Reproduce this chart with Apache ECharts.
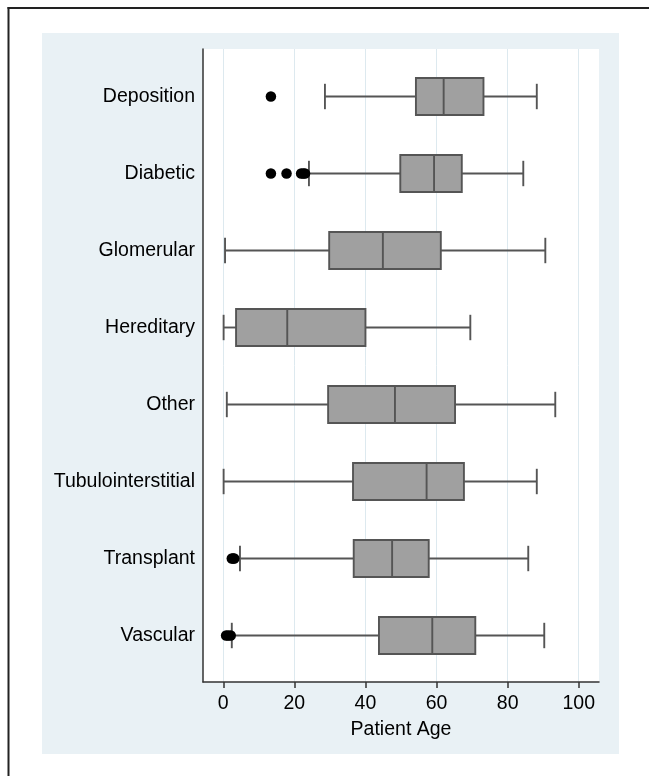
<!DOCTYPE html>
<html>
<head>
<meta charset="utf-8">
<script src="https://cdn.jsdelivr.net/npm/echarts@6/dist/echarts.min.js"></script>
<style>
html,body{margin:0;padding:0;background:#fff;}
#chart{width:649px;height:776px;}
</style>
</head>
<body>
<div id="chart"></div>
<script>
var categories = ['Deposition','Diabetic','Glomerular','Hereditary','Other','Tubulointerstitial','Transplant','Vascular'];
var lowWhisker  = [28.6, 24.1, 0.5, 0.1, 1.0, 0.1, 4.7, 2.4];
var q1          = [54.2, 49.8, 29.8, 3.6, 29.5, 36.5, 36.7, 43.8];
var median      = [62.0, 59.3, 44.9, 18.0, 48.3, 57.2, 47.5, 58.8];
var q3          = [73.2, 67.1, 61.2, 40.0, 65.2, 67.7, 57.8, 70.9];
var highWhisker = [88.2, 84.4, 90.6, 69.5, 93.4, 88.2, 85.8, 90.3];
var outlierCategory = ['Deposition','Diabetic','Diabetic','Diabetic','Diabetic','Diabetic','Transplant','Transplant','Transplant','Vascular','Vascular','Vascular'];
var outlierAge      = [13.4, 13.4, 17.8, 21.9, 22.5, 23.0, 2.4, 2.8, 3.1, 0.8, 1.4, 2.1];
var xTicks = [0, 20, 40, 60, 80, 100];

var FONT = 'Liberation Sans, Arial, Helvetica, sans-serif';
var xMin = -5.7, xMax = 105.7;

var boxData = categories.map(function (c, i) {
  return [i, lowWhisker[i], q1[i], median[i], q3[i], highWhisker[i]];
});
var outlierData = outlierCategory.map(function (c, i) {
  return [outlierAge[i], categories.indexOf(c)];
});

var chart = echarts.init(document.getElementById('chart'), null, {renderer: 'canvas'});
var option = {
  animation: false,
  backgroundColor: '#ffffff',
  graphic: [
    {type: 'rect', z: -10, shape: {x: 42, y: 33, width: 577, height: 721}, style: {fill: '#e9f1f5'}},
    {type: 'line', z: 100, shape: {x1: 8.5, y1: 7, x2: 8.5, y2: 776}, style: {stroke: '#222', lineWidth: 2}},
    {type: 'line', z: 100, shape: {x1: 7.5, y1: 8, x2: 649, y2: 8}, style: {stroke: '#222', lineWidth: 2}}
  ],
  grid: [
    {left: 203, top: 49, width: 396, height: 633, show: true, backgroundColor: '#ffffff', borderWidth: 0},
    {left: 203, top: 58, width: 396, height: 616, show: false}
  ],
  xAxis: [
    {
      gridIndex: 0, type: 'value', min: xMin, max: xMax,
      name: 'Patient Age', nameLocation: 'middle', nameGap: 38,
      nameTextStyle: {fontFamily: FONT, fontSize: 19.5, color: '#000'},
      axisLine: {show: true, onZero: false, lineStyle: {color: '#333', width: 1.5}},
      axisTick: {show: true, length: 6, customValues: xTicks, lineStyle: {color: '#333', width: 1.5}},
      axisLabel: {show: true, margin: 12, customValues: xTicks, fontFamily: FONT, fontSize: 19.5, color: '#000'},
      splitLine: {show: true, lineStyle: {color: '#dde9ef', width: 1}}
    },
    {
      gridIndex: 1, type: 'value', min: xMin, max: xMax, show: false,
      splitLine: {show: false}
    }
  ],
  yAxis: [
    {
      gridIndex: 0, type: 'value', min: 0, max: 1,
      axisLine: {show: true, onZero: false, lineStyle: {color: '#333', width: 1.5}},
      axisTick: {show: false}, axisLabel: {show: false}, splitLine: {show: false}
    },
    {
      gridIndex: 1, type: 'category', data: categories, inverse: true,
      axisLine: {show: false}, axisTick: {show: false},
      axisLabel: {margin: 8, padding: [5, 0, 0, 0], fontFamily: FONT, fontSize: 19.5, color: '#000'},
      splitLine: {show: false}
    }
  ],
  series: [
    {
      type: 'custom', xAxisIndex: 1, yAxisIndex: 1,
      data: boxData,
      renderItem: function (params, api) {
        var cat = api.value(0);
        var lo = api.coord([api.value(1), cat]);
        var b1 = api.coord([api.value(2), cat]);
        var md = api.coord([api.value(3), cat]);
        var b3 = api.coord([api.value(4), cat]);
        var hi = api.coord([api.value(5), cat]);
        var band = api.size([0, 1])[1];
        var bh = band * 0.48, ch = band * 0.33;
        var y = lo[1];
        var st = {stroke: '#555', lineWidth: 1.9, fill: null};
        return {
          type: 'group',
          children: [
            {type: 'line', shape: {x1: lo[0], y1: y, x2: b1[0], y2: y}, style: st},
            {type: 'line', shape: {x1: b3[0], y1: y, x2: hi[0], y2: y}, style: st},
            {type: 'line', shape: {x1: lo[0], y1: y - ch / 2, x2: lo[0], y2: y + ch / 2}, style: st},
            {type: 'line', shape: {x1: hi[0], y1: y - ch / 2, x2: hi[0], y2: y + ch / 2}, style: st},
            {type: 'rect', shape: {x: b1[0], y: y - bh / 2, width: b3[0] - b1[0], height: bh}, style: {fill: '#a0a0a0', stroke: '#555', lineWidth: 1.9}},
            {type: 'line', shape: {x1: md[0], y1: y - bh / 2, x2: md[0], y2: y + bh / 2}, style: st}
          ]
        };
      }
    },
    {
      type: 'scatter', xAxisIndex: 1, yAxisIndex: 1,
      data: outlierData, symbol: 'circle', symbolSize: 10.5,
      itemStyle: {color: '#000', opacity: 1}, z: 5
    }
  ]
};
chart.setOption(option);
</script>
</body>
</html>
